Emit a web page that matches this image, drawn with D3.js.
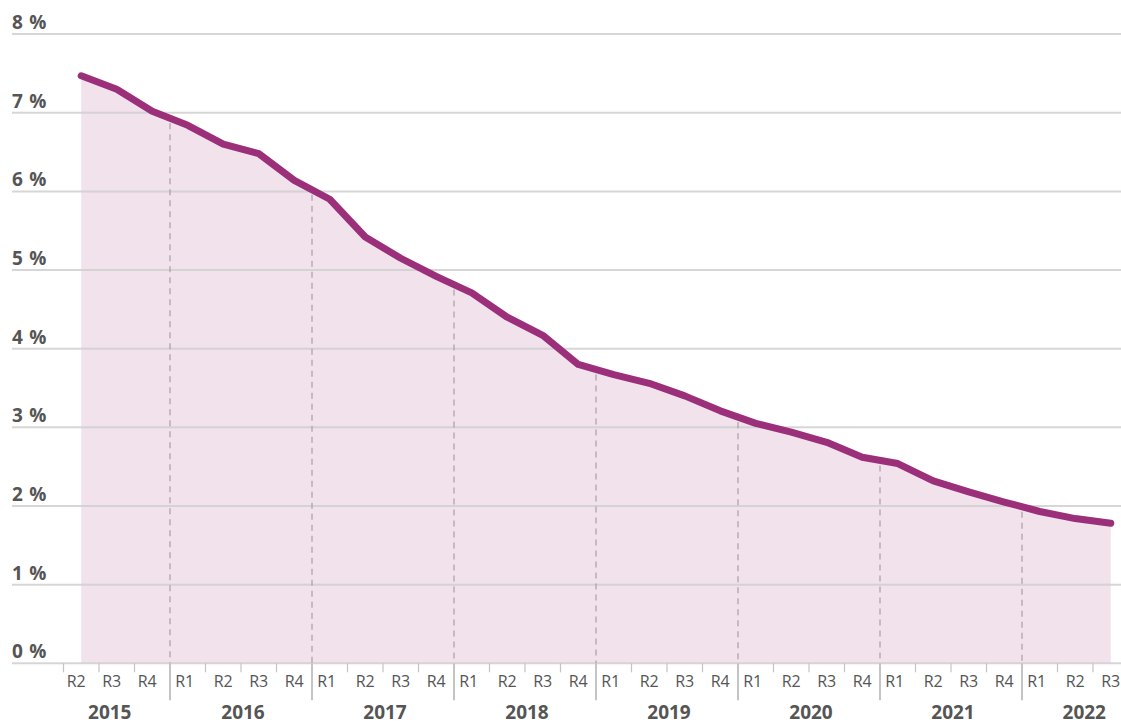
<!DOCTYPE html>
<html>
<head>
<meta charset="utf-8">
<script src="https://cdnjs.cloudflare.com/ajax/libs/d3/7.8.5/d3.min.js"></script>
<style>
  body { margin: 0; background: #fff; }
  text { font-family: "Open Sans", "Noto Sans", sans-serif; }
</style>
</head>
<body>
<script>
// quarters R2 2015 .. R3 2022
var years = ["2015", "2016", "2017", "2018", "2019", "2020", "2021", "2022"]
var quarters = ["R2","R3","R4",
  "R1","R2","R3","R4", "R1","R2","R3","R4", "R1","R2","R3","R4",
  "R1","R2","R3","R4", "R1","R2","R3","R4", "R1","R2","R3","R4",
  "R1","R2","R3"]
var values = [7.47, 7.30, 7.02,
  6.84, 6.60, 6.48, 6.14,
  5.90, 5.42, 5.15, 4.92,
  4.71, 4.40, 4.17, 3.80,
  3.67, 3.56, 3.40, 3.21,
  3.05, 2.94, 2.81, 2.62,
  2.54, 2.32, 2.18, 2.05,
  1.93, 1.84, 1.78]
var yTicks = [0, 1, 2, 3, 4, 5, 6, 7, 8]

var width = 1121, height = 725
var left = 12, plotLeft = 63.5, bandW = 35.5
var yTop = 34.1, yBottom = 663.3

// year of each point
var yearOf = []
var yi = 0
quarters.forEach(function(q, i){
  if (q == "R1" && i > 0) yi = yi + 1
  yearOf.push(years[yi])
})
var keys = quarters.map(function(q, i){ return yearOf[i] + "-" + q })

var svg = d3.select("body").append("svg")
  .attr("width", width)
  .attr("height", height)

var x = d3.scaleBand()
  .domain(keys)
  .range([plotLeft, plotLeft + keys.length * bandW])
  .paddingInner(0).paddingOuter(0)

var y = d3.scaleLinear().domain([0, 8]).range([yBottom, yTop])

function cx(i){ return x(keys[i]) + x.bandwidth() / 2 }

// area fill
var area = d3.area()
  .x(function(d, i){ return cx(i) })
  .y0(y(0))
  .y1(function(d){ return y(d) })

svg.append("path")
  .datum(values)
  .attr("d", area)
  .attr("fill", "#9b2f7a")
  .attr("fill-opacity", 0.14)

// gridlines + y labels
var yAxis = svg.append("g")
yTicks.forEach(function(t){
  yAxis.append("line")
    .attr("x1", left).attr("x2", width)
    .attr("y1", y(t)).attr("y2", y(t))
    .attr("stroke", "#cfcfcf")
    .attr("stroke-opacity", 0.85)
    .attr("stroke-width", 2)
  yAxis.append("text")
    .attr("x", left)
    .attr("y", y(t) - 5)
    .attr("font-size", 19)
    .attr("font-weight", "bold")
    .attr("word-spacing", 1.5)
    .attr("fill", "#555")
    .text(t + " %")
})

// dashed lines at year boundaries
keys.forEach(function(k, i){
  if (quarters[i] == "R1" && i > 0) {
    var bx = x(k)
    var vy = (y(values[i - 1]) + y(values[i])) / 2
    svg.append("line")
      .attr("x1", bx).attr("x2", bx)
      .attr("y1", vy + 5).attr("y2", y(0))
      .attr("stroke", "#a8979f")
      .attr("stroke-opacity", 0.75)
      .attr("stroke-width", 1.5)
      .attr("stroke-dasharray", "6,5")
  }
})

// line
var line = d3.line()
  .x(function(d, i){ return cx(i) })
  .y(function(d){ return y(d) })

svg.append("path")
  .datum(values)
  .attr("d", line)
  .attr("fill", "none")
  .attr("stroke", "#9b2f7a")
  .attr("stroke-width", 7)
  .attr("stroke-linecap", "round")
  .attr("stroke-linejoin", "round")

// x axis ticks + labels
var xAxis = svg.append("g")
keys.forEach(function(k, i){
  var isYear = quarters[i] == "R1" && i > 0
  xAxis.append("line")
    .attr("x1", x(k)).attr("x2", x(k))
    .attr("y1", y(0)).attr("y2", y(0) + (isYear ? 37 : 9))
    .attr("stroke", "#c4c4c4")
    .attr("stroke-width", isYear ? 2 : 1.2)
  // small nudges: first year sits a bit left, R1 hugs the year tick
  var dx = (yearOf[i] == years[0] ? -5 : 0) + (quarters[i] == "R1" ? -3 : 0)
  xAxis.append("text")
    .attr("x", cx(i) + dx)
    .attr("y", 687)
    .attr("text-anchor", "middle")
    .attr("font-size", 16)
    .attr("fill", "#555")
    .text(quarters[i])
})

// year labels centred on their quarters
years.forEach(function(yr, j){
  var idx = []
  yearOf.forEach(function(v, i){ if (v == yr) idx.push(i) })
  var mid = (x(keys[idx[0]]) + x(keys[idx[idx.length - 1]]) + bandW) / 2
  if (j == 0) mid = mid - 7
  else if (j == years.length - 1) mid = mid + 9
  else mid = mid + 2
  svg.append("text")
    .attr("x", mid)
    .attr("y", 719)
    .attr("text-anchor", "middle")
    .attr("font-size", 19)
    .attr("font-weight", "bold")
    .attr("fill", "#555")
    .text(yr)
})
</script>
</body>
</html>
